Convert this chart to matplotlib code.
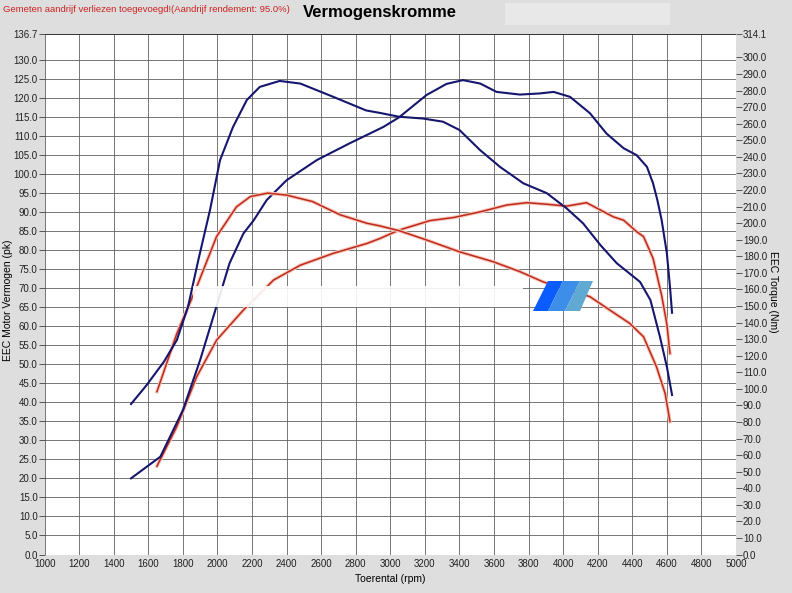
import numpy as np
import matplotlib
matplotlib.use("Agg")
from matplotlib import pyplot as plt
from matplotlib.patches import Polygon, Rectangle
import matplotlib.patheffects as pe

plt.rcParams['font.family'] = ['Liberation Sans', 'DejaVu Sans']

# run 1 (blue)
blue_pwr_rpm = [1500, 1670, 1800, 1900, 2000, 2070, 2150, 2210, 2285, 2400, 2575,
                2765, 2960, 3050, 3210, 3325, 3420, 3520, 3615, 3750, 3865, 3945,
                4040, 4155, 4250, 4350, 4425, 4485, 4520, 4545, 4570, 4600, 4618, 4630]
blue_pwr = [20.0, 25.7, 37.9, 51.1, 66.0, 76.5, 84.3, 87.8, 93.1, 98.3, 103.6,
            108.0, 112.3, 114.8, 120.7, 123.6, 124.6, 123.7, 121.5, 120.8, 121.1, 121.5,
            120.2, 115.9, 110.6, 106.7, 104.9, 101.8, 97.5, 93.1, 87.8, 79.1, 70.3, 63.5]

blue_trq_rpm = [1500, 1590, 1690, 1765, 1830, 1890, 1957, 2015, 2090, 2170, 2245, 2360,
                2480, 2670, 2860, 2940, 3050, 3190, 3305, 3400, 3520, 3635, 3770,
                3905, 4020, 4115, 4215, 4310, 4445, 4505, 4560, 4600, 4630]
blue_trq = [90.8, 102.2, 116.3, 129.4, 149.6, 178.0, 207.9, 238.0, 258.0, 274.3, 282.2, 285.8,
            284.2, 276.2, 268.0, 266.5, 264.2, 263.1, 261.2, 256.2, 244.0, 233.9, 224.0,
            218.1, 208.9, 199.9, 186.8, 175.8, 164.5, 153.5, 131.4, 113.3, 96.3]

# run 2 (red)
red_pwr_rpm = [1650, 1765, 1880, 1995, 2150, 2325, 2480, 2670, 2865, 2940, 3050,
               3230, 3365, 3520, 3675, 3790, 3905, 4020, 4135, 4290, 4350, 4425,
               4465, 4520, 4570, 4600, 4618]
red_pwr = [23.2, 33.6, 46.7, 56.3, 64.2, 72.1, 76.0, 79.1, 81.7, 83.0, 85.2,
           87.7, 88.5, 90.0, 91.8, 92.4, 92.0, 91.5, 92.4, 88.7, 87.8, 84.8,
           83.5, 77.8, 68.0, 60.5, 52.8]

red_trq_rpm = [1650, 1765, 1880, 1995, 2110, 2190, 2290, 2400, 2550, 2710, 2865,
               2940, 3055, 3210, 3400, 3595, 3750, 3885, 4155, 4270, 4385, 4465,
               4540, 4590, 4618]
red_trq = [98.3, 133.3, 161.5, 191.9, 209.8, 216.0, 218.1, 216.9, 213.0, 205.0, 199.9,
           198.3, 195.3, 189.8, 182.7, 176.7, 170.7, 164.5, 155.6, 147.5, 139.5, 131.4,
           113.3, 97.2, 80.2]

pk_max = 136.7
nm_max = 314.1
x_ticks = list(range(1000, 5001, 200))
pk_ticks = [v * 5.0 for v in range(27)] + [pk_max]
nm_ticks = [v * 10.0 for v in range(31)] + [nm_max]

bg = '#dedede'
navy = '#16166e'
red = '#bf2a1a'

W, H = 792.0, 593.0
fig = plt.figure(figsize=(7.92, 5.93), dpi=100, facecolor=bg)
ax = fig.add_axes([0.0563, 0.0649, 0.873, 0.8777])
ax.set_facecolor('white')
ax2 = ax.twinx()

ax.set_xlim(1000, 5000)
ax.set_ylim(0, pk_max)
ax2.set_ylim(0, nm_max)

ax.set_xticks(x_ticks)
ax.set_yticks(pk_ticks)
ax.set_yticklabels(['%.1f' % v for v in pk_ticks])
ax2.set_yticks(nm_ticks)
ax2.set_yticklabels(['%.1f' % v for v in nm_ticks])

ax.grid(True, color='#606060', linewidth=0.6)
ax.set_axisbelow(True)
ax.axhline(pk_max, color='#303030', linewidth=1.3)

for a in (ax, ax2):
    for s in a.spines.values():
        s.set_visible(False)
ax.tick_params(axis='both', labelsize=7, length=4, width=0.6, color='#404040',
               pad=1, labelcolor='#202020')
ax.tick_params(axis='x', length=0, pad=3)
ax2.tick_params(axis='y', labelsize=7, length=4, width=0.6, color='#404040',
                pad=1, labelcolor='#202020')

glow = [pe.Stroke(linewidth=2.6, foreground='#f5c6bd'), pe.Normal()]
ax.plot(red_pwr_rpm, red_pwr, color=red, lw=1.1, path_effects=glow)
ax2.plot(red_trq_rpm, red_trq, color=red, lw=1.1, path_effects=glow)
ax.plot(blue_pwr_rpm, blue_pwr, color=navy, lw=1.5)
ax2.plot(blue_trq_rpm, blue_trq, color=navy, lw=1.5)

ax.set_xlabel('Toerental (rpm)', fontsize=7.5, labelpad=4)
fig.text(8 / W, 1 - 300 / H, 'EEC Motor Vermogen (pk)', rotation=90,
         ha='center', va='center', fontsize=7.5)
fig.text(773 / W, 1 - 292 / H, 'EEC Torque (Nm)', rotation=270,
         ha='center', va='center', fontsize=7.5)

# blurred watermark in the middle of the plot
fig.patches.append(Rectangle((193 / W, 1 - 307 / H), 330 / W, 21 / H,
                             transform=fig.transFigure, facecolor='white',
                             alpha=0.9, edgecolor='none', zorder=5))
logo = [('#0a5cff', [(533, 311), (548, 281), (563, 281), (548, 311)]),
        ('#3d8ee8', [(548, 311), (563, 281), (580, 281), (565, 311)]),
        ('#5fa9d3', [(565, 311), (580, 281), (593, 281), (580, 311)])]
for col, pts in logo:
    fig.patches.append(Polygon([(x / W, 1 - y / H) for x, y in pts],
                               transform=fig.transFigure, facecolor=col,
                               edgecolor='none', zorder=6))

# lighter box at top right
fig.patches.append(Rectangle((505 / W, 1 - 25 / H), 165 / W, 22 / H,
                             transform=fig.transFigure, facecolor='#e8e8e8',
                             edgecolor='none', zorder=0))

fig.text(380 / W, 1 - 13 / H, 'Vermogenskromme', ha='center', va='center',
         fontsize=12, fontweight='bold')
fig.text(3 / W, 1 - 9 / H,
         'Gemeten aandrijf verliezen toegevoegd!(Aandrijf rendement: 95.0%)',
         ha='left', va='center', fontsize=6.8, color='#cc2222')

fig.savefig('out.png', dpi=100, facecolor=bg)
